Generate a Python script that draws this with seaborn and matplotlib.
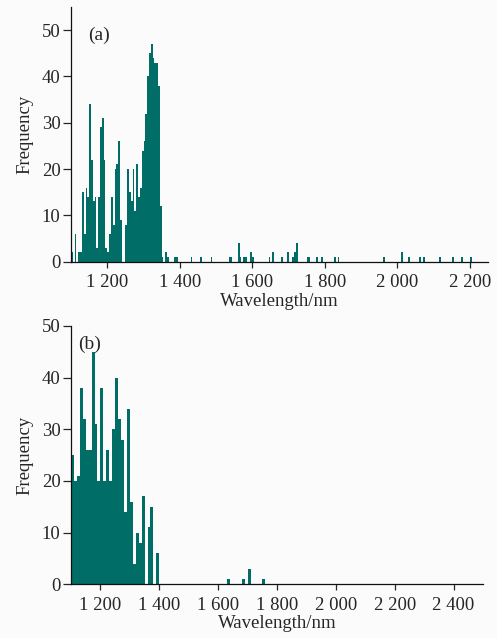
import numpy as np
import pandas as pd
import matplotlib
matplotlib.use("Agg")
import matplotlib.pyplot as plt
from matplotlib.ticker import FuncFormatter
import seaborn as sns

# ---------------- data ----------------
# Panel (a): 5 nm bins starting at 1100 nm (main cluster 1100-1350 nm)
a_bin_start = 1100
a_bin_width = 5
a_main_counts = [2, 0, 6, 0, 2, 2, 15, 6, 16, 14,
                 34, 22, 13, 14, 3, 14, 29, 31, 22, 3,
                 2, 6, 14, 8, 20, 21, 26, 9, 0, 0,
                 8, 20, 15, 13, 20, 11, 21, 14, 16, 24,
                 26, 32, 40, 45, 47, 44, 43, 43, 38, 12]
# sparse long-wavelength occurrences in panel (a)
a_sparse_wl = [1352, 1362, 1367, 1385, 1390, 1430, 1455, 1485, 1537, 1542,
               1560, 1567, 1577, 1582, 1596, 1601, 1648, 1656, 1681, 1697,
               1710, 1715, 1721, 1752, 1757, 1778, 1792, 1825, 1836, 1963,
               2010, 2030, 2060, 2071, 2118, 2151, 2179, 2200]
a_sparse_counts = [1, 2, 1, 1, 1, 1, 1, 1, 1, 1,
                   4, 1, 1, 1, 2, 1, 1, 2, 1, 2,
                   1, 2, 4, 1, 1, 1, 1, 1, 1, 1,
                   2, 1, 1, 1, 1, 1, 1, 1]

# Panel (b): 10 nm bins starting at 1100 nm
b_bin_start = 1100
b_bin_width = 10
b_main_counts = [25, 20, 21, 38, 32, 26, 26, 45, 31, 20,
                 38, 20, 26, 20, 30, 40, 32, 28, 14, 34,
                 16, 4, 10, 8, 17, 0, 11, 15, 0, 6]
b_sparse_wl = [1635, 1683, 1708, 1754]
b_sparse_counts = [1, 1, 3, 1]

a_xticks = [1200, 1400, 1600, 1800, 2000, 2200]
b_xticks = [1200, 1400, 1600, 1800, 2000, 2200, 2400]
yticks = [0, 10, 20, 30, 40, 50]

# ---------------- build tables ----------------
def make_df(start, width, main_counts, sparse_wl, sparse_counts):
    centers = start + width * (np.arange(len(main_counts)) + 0.5)
    wl = np.concatenate([centers, np.array(sparse_wl, dtype=float)])
    w = np.concatenate([np.array(main_counts, float), np.array(sparse_counts, float)])
    return pd.DataFrame({"wavelength": wl, "count": w})

df_a = make_df(a_bin_start, a_bin_width, a_main_counts, a_sparse_wl, a_sparse_counts)
df_b = make_df(b_bin_start, b_bin_width, b_main_counts, b_sparse_wl, b_sparse_counts)

# ---------------- style ----------------
sns.set_style("ticks")
plt.rcParams["font.family"] = ["Liberation Serif", "DejaVu Serif"]
plt.rcParams["font.size"] = 13

bar_color = "#006E66"
bg = "#fbfbfb"

fig = plt.figure(figsize=(4.97, 6.38), dpi=100, facecolor=bg)
ax_a = fig.add_axes([71/497, 1 - 261.7/638, (488-71)/497, (261.7-7)/638])
ax_b = fig.add_axes([71/497, 1 - 584.3/638, (483-71)/497, (584.3-326)/638])

sns.histplot(data=df_a, x="wavelength", weights="count", binwidth=a_bin_width,
             binrange=(1100, 2250), color=bar_color, alpha=1, linewidth=0,
             edgecolor=bar_color, ax=ax_a)
sns.histplot(data=df_b, x="wavelength", weights="count", binwidth=b_bin_width,
             binrange=(1100, 2500), color=bar_color, alpha=1, linewidth=0,
             edgecolor=bar_color, ax=ax_b)

fmt = FuncFormatter(lambda v, p: f"{int(v):,}".replace(",", " "))

for ax, xlim, ylim, xt, lab, ly in [
        (ax_a, (1100, 2250), (0, 55), a_xticks, "(a)", 0.89),
        (ax_b, (1100, 2500), (0, 50), b_xticks, "(b)", 0.93)]:
    ax.set_facecolor(bg)
    ax.set_xlim(*xlim)
    ax.set_ylim(*ylim)
    ax.set_xticks(xt)
    ax.set_yticks(yticks)
    ax.xaxis.set_major_formatter(fmt)
    ax.set_xlabel("Wavelength/nm", fontsize=13.5, labelpad=1)
    ax.set_ylabel("Frequency", fontsize=13.5, labelpad=6)
    ax.tick_params(axis="x", direction="out", length=4, width=0.9, labelsize=13.5, pad=5)
    ax.tick_params(axis="y", direction="out", length=5.5, width=0.9, labelsize=13.5, pad=2)
    for s in ["top", "right"]:
        ax.spines[s].set_visible(False)
    for s in ["left", "bottom"]:
        ax.spines[s].set_linewidth(0.9)
        ax.spines[s].set_color("#111111")
    ax.text(0.04 if lab == "(a)" else 0.018, ly, lab, transform=ax.transAxes,
            fontsize=14, va="center", ha="left")

fig.savefig("out.png", dpi=100, facecolor=bg)
